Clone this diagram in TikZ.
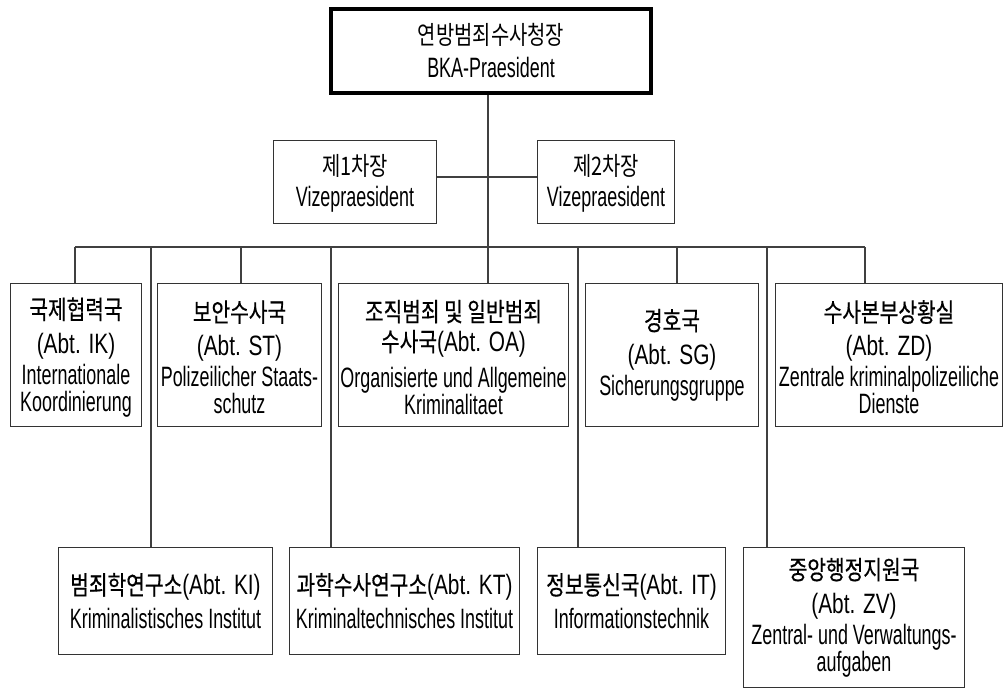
\documentclass[tikz,border=0pt]{standalone}
\usepackage{fontspec}
\newfontfamily\krf[FakeStretch=0.78]{Noto Sans CJK KR}
\newfontfamily\krbf[FakeStretch=0.78,FakeBold=0.5]{Noto Sans CJK KR}
\newfontfamily\laf[FakeStretch=0.64]{Liberation Sans}
\newfontfamily\abf[FakeStretch=0.745]{Liberation Sans}
\newcommand\KO[1]{{\krf\fontsize{25.5}{27}\selectfont #1}}
\newcommand\KB[1]{{\krbf\fontsize{26}{27}\selectfont #1}}
\newcommand\AB[1]{{\abf #1}}
\begin{document}
\begin{tikzpicture}[x=1pt,y=-1pt,
  box/.style={draw=black!80, line width=1.3pt, inner sep=0pt, align=center,
    font=\laf\fontsize{28}{27}\selectfont, text=black},
  chief/.style={box, draw=black, line width=4pt},
  link/.style={draw=black!75, line width=1.1pt}]
\useasboundingbox (0,0) rectangle (1005,691);
% top
\node[chief, minimum width=320pt, minimum height=84pt] (top) at (491,51)
  {\KO{연방범죄수사청장}\\[6pt]BKA-Praesident};
% vice presidents
\node[box, minimum width=163pt, minimum height=83pt] (v1) at (355,182)
  {\rule{0pt}{24pt}\KO{제1차장}\\[4pt]Vizepraesident};
\node[box, minimum width=137pt, minimum height=83pt] (v2) at (606,182)
  {\rule{0pt}{24pt}\KO{제2차장}\\[4pt]Vizepraesident};
% row 1
\node[box, minimum width=131pt, minimum height=143pt] (IK) at (76,355)
  {\rule{0pt}{26pt}\KB{국제협력국}\\[7pt]\AB{(Abt. IK)}\\[4pt]Internationale\\Koordinierung};
\node[box, minimum width=164pt, minimum height=143pt] (ST) at (239.5,355)
  {\rule{0pt}{26pt}\KB{보안수사국}\\[7pt]\AB{(Abt. ST)}\\[4pt]Polizeilicher Staats-\\schutz};
\node[box, minimum width=230pt, minimum height=143pt] (OA) at (453.5,355)
  {\rule{0pt}{26pt}\KB{조직범죄 및 일반범죄}\\[3pt]\KB{수사국}\AB{(Abt. OA)}\\[9pt]Organisierte und Allgemeine\\Kriminalitaet};
\node[box, minimum width=173pt, minimum height=143pt] (SG) at (672,355)
  {\KB{경호국}\\[7pt]\AB{(Abt. SG)}\\[4pt]Sicherungsgruppe};
\node[box, minimum width=227pt, minimum height=143pt] (ZD) at (889,355)
  {\rule{0pt}{26pt}\KB{수사본부상황실}\\[7pt]\AB{(Abt. ZD)}\\[4pt]Zentrale kriminalpolizeiliche\\Dienste};
% row 2
\node[box, minimum width=214pt, minimum height=107pt] (KI) at (165.5,601)
  {\KB{범죄학연구소}\AB{(Abt. KI)}\\[7pt]Kriminalistisches Institut};
\node[box, minimum width=230pt, minimum height=107pt] (KT) at (404.5,601)
  {\KB{과학수사연구소}\AB{(Abt. KT)}\\[7pt]Kriminaltechnisches Institut};
\node[box, minimum width=188pt, minimum height=107pt] (IT) at (631.5,601)
  {\KB{정보통신국}\AB{(Abt. IT)}\\[7pt]Informationstechnik};
\node[box, minimum width=221pt, minimum height=140pt] (ZV) at (854,617.5)
  {\KB{중앙행정지원국}\\[7pt]\AB{(Abt. ZV)}\\[4pt]Zentral- und Verwaltungs-\\aufgaben};
% bus coordinates
\coordinate (spine) at (488,247);
\coordinate (dIK) at (75,247);
\coordinate (dST) at (241,247);
\coordinate (dSG) at (677,247);
\coordinate (dZD) at (865,247);
\coordinate (dKI) at (151,247);
\coordinate (dKT) at (331,247);
\coordinate (dIT) at (578,247);
\coordinate (dZV) at (767,247);
% connectors
\draw[link] (spine |- top.south) -- (spine);
\draw[link] ([yshift=5pt]v1.east) -- ([yshift=5pt]v1.east -| v2.west);
\draw[link] (dIK) -- (dZD);
\draw[link] (dIK) -- (dIK |- IK.north);
\draw[link] (dST) -- (dST |- ST.north);
\draw[link] (spine) -- (spine |- OA.north);
\draw[link] (dSG) -- (dSG |- SG.north);
\draw[link] (dZD) -- (dZD |- ZD.north);
\draw[link] (dKI) -- (dKI |- KI.north);
\draw[link] (dKT) -- (dKT |- KT.north);
\draw[link] (dIT) -- (dIT |- IT.north);
\draw[link] (dZV) -- (dZV |- ZV.north);
\end{tikzpicture}
\end{document}
